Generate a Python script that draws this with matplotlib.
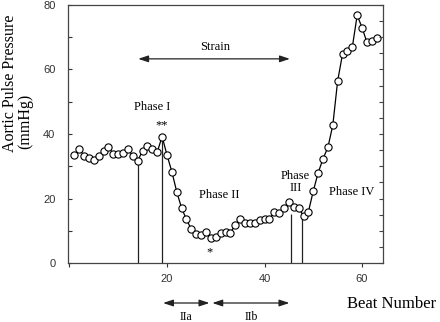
import numpy as np
import matplotlib
matplotlib.use("Agg")
import matplotlib.pyplot as plt
from matplotlib.ticker import MultipleLocator

# beat-by-beat aortic pulse pressure
beats = np.arange(1, 64)
pressure = [33.5, 35.3, 33.3, 32.6, 31.9, 33.3, 34.8, 36.0, 33.8, 33.8,
            34.0, 35.3, 33.2, 31.7, 34.8, 36.3, 35.4, 34.4, 39.2, 33.5,
            28.3, 22.1, 17.0, 13.5, 10.4, 8.9, 8.7, 9.5, 7.9, 8.2,
            9.4, 9.6, 9.4, 11.8, 13.7, 12.3, 12.5, 12.5, 13.3, 13.7,
            13.5, 15.9, 15.4, 17.0, 19.0, 17.5, 17.1, 14.6, 15.9, 22.3,
            28.0, 32.3, 35.9, 42.7, 56.5, 64.8, 65.8, 66.9, 76.8, 73.0,
            68.4, 68.7, 69.8]

# phase boundary markers (beat, height)
phase_x = [14, 19, 45.4, 47.7]
phase_top = [31.7, 39.2, 15.2, 14.6]

strain_span = (14.1, 45.2)
iia_span = (19.2, 28.7)
iib_span = (29.3, 45.1)

serif = "Liberation Serif"
sans = "Liberation Sans"

fig = plt.figure(figsize=(4.4, 3.22), dpi=100)
ax = fig.add_axes([0.1545, 0.1832, 0.716, 0.8013])

ax.vlines(phase_x, 0, phase_top, color="#222222", lw=0.9, zorder=1)
ax.plot(beats, pressure, color="black", lw=0.9, marker="o", ms=5.2,
        mfc="white", mec="black", mew=0.8, zorder=3)

ax.set_xlim(-0.3, 64.3)
ax.set_ylim(0, 80)
ax.xaxis.set_major_locator(MultipleLocator(20))
ax.xaxis.set_major_formatter(plt.FuncFormatter(lambda v, p: "" if v == 0 else "%d" % v))
ax.yaxis.set_major_locator(MultipleLocator(20))
ax.yaxis.set_minor_locator(MultipleLocator(10))
ax.tick_params(axis="x", direction="out", length=3, width=0.8, pad=5,
               labelsize=8, colors="#333333")
ax.tick_params(axis="y", which="both", direction="in", length=3, width=0.8,
               pad=9, labelsize=8, colors="#333333")
for lab in ax.get_xticklabels() + ax.get_yticklabels():
    lab.set_fontfamily(sans)
for s in ax.spines.values():
    s.set_color("#444444")
    s.set_linewidth(0.9)

# right side ticks every 5 mmHg
ax2 = ax.twinx()
ax2.set_ylim(0, 80)
ax2.yaxis.set_major_locator(MultipleLocator(5))
ax2.tick_params(axis="y", direction="in", length=3, width=0.8,
                labelright=False, colors="#444444")
for s in ax2.spines.values():
    s.set_visible(False)

# strain arrow
ax.annotate("", xy=(strain_span[0], 63.3), xytext=(strain_span[1], 63.3),
            arrowprops=dict(arrowstyle="<|-|>,head_length=0.6,head_width=0.2",
                            color="#222222", lw=0.9, shrinkA=0, shrinkB=0))
ax.text(29.9, 67, "Strain", family=serif, fontsize=9, ha="center", va="center")

ax.text(16.9, 48.5, "Phase I", family=serif, fontsize=9, ha="center", va="center")
ax.text(19, 42.6, "**", family=serif, fontsize=9, ha="center", va="center")
ax.text(30.7, 21.1, "Phase II", family=serif, fontsize=9, ha="center", va="center")
ax.text(28.8, 3.2, "*", family=serif, fontsize=9, ha="center", va="center")
ax.text(46.3, 25.1, "Phase\nIII", family=serif, fontsize=9, ha="center",
        va="center", linespacing=1.0)
ax.text(57.9, 22.1, "Phase IV", family=serif, fontsize=9, ha="center", va="center")

# sub-phase arrows below the axis
tr = ax.get_xaxis_transform()
for span, lab in [(iia_span, "IIa"), (iib_span, "IIb")]:
    ax.annotate("", xy=(span[0], -0.155), xytext=(span[1], -0.155), xycoords=tr,
                textcoords=tr, annotation_clip=False,
                arrowprops=dict(arrowstyle="<|-|>,head_length=0.6,head_width=0.2",
                                color="#222222", lw=0.9, shrinkA=0, shrinkB=0))
    ax.text((span[0] + span[1]) / 2, -0.21, lab, transform=tr, family=serif,
            fontsize=8.5, ha="center", va="center")

fig.text(347 / 440, 1 - 304 / 322, "Beat Number", family=serif, fontsize=12,
         ha="left", va="center")
fig.text(10 / 440, 1 - 152 / 322, "Aortic Pulse Pressure", family=serif,
         fontsize=11.5, rotation=90, ha="center", va="bottom")
fig.text(25 / 440, 1 - 149 / 322, "(mmHg)", family=serif,
         fontsize=11.5, rotation=90, ha="center", va="bottom")

fig.savefig("out.png", dpi=100)
